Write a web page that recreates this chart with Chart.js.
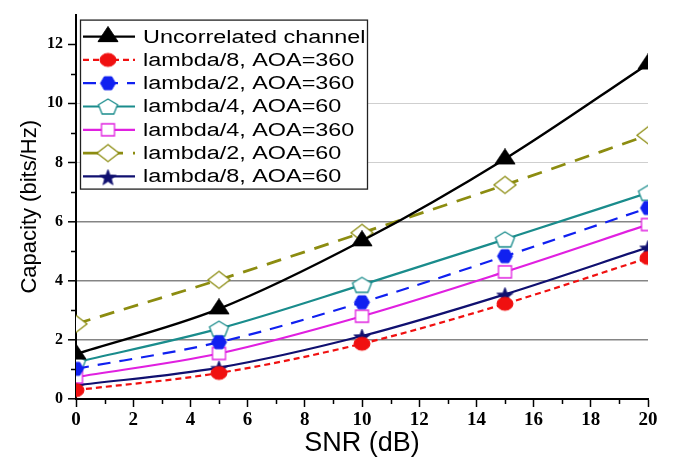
<!DOCTYPE html>
<html><head><meta charset="utf-8">
<script src="https://cdn.jsdelivr.net/npm/chart.js@4.4.1/dist/chart.umd.min.js"></script>
<style>html,body{margin:0;padding:0;background:#fff;}canvas{display:block;}</style>
</head><body>
<canvas id="c" width="674" height="460"></canvas>
<script>
// ---- data ----
const snr = [0, 5, 10, 15, 20];
const uncorrelated = [1.52, 3.05, 5.35, 8.12, 11.33];
const lambda8_aoa360 = [0.30, 0.88, 1.87, 3.22, 4.77];
const lambda2_aoa360 = [1.02, 1.92, 3.27, 4.83, 6.46];
const lambda4_aoa60 = [1.24, 2.38, 3.86, 5.40, 6.97];
const lambda4_aoa360 = [0.74, 1.54, 2.80, 4.30, 5.90];
const lambda2_aoa60 = [2.54, 4.03, 5.62, 7.24, 8.92];
const lambda8_aoa60 = [0.46, 1.06, 2.13, 3.54, 5.13];
const seriesLabels = ['Uncorrelated channel', 'lambda/8, AOA=360', 'lambda/2, AOA=360', 'lambda/4, AOA=60', 'lambda/4, AOA=360', 'lambda/2, AOA=60', 'lambda/8, AOA=60'];
const xMajorTicks = [0, 2, 4, 6, 8, 10, 12, 14, 16, 18, 20];
const xMinorTicks = [1, 3, 5, 7, 9, 11, 13, 15, 17, 19];
const yMajorTicks = [0, 2, 4, 6, 8, 10, 12];
const yMinorTicks = [1, 3, 5, 7, 9, 11];

// ---- marker shapes ----
function shape(kind, w, h, fill, stroke, lw) {
  const pad = Math.ceil(lw) + 2;
  const c = document.createElement('canvas');
  c.width = Math.ceil(w + pad * 2); c.height = Math.ceil(h + pad * 2);
  const g = c.getContext('2d');
  const cx = c.width / 2, cy = c.height / 2, rx = w / 2, ry = h / 2;
  g.beginPath();
  if (kind === 'ellipse') {
    g.ellipse(cx, cy, rx, ry, 0, 0, Math.PI * 2);
  } else if (kind === 'triangle') {
    g.moveTo(cx, cy - 2 * h / 3); g.lineTo(cx + rx, cy + h / 3); g.lineTo(cx - rx, cy + h / 3); g.closePath();
  } else if (kind === 'diamond') {
    g.moveTo(cx, cy - ry); g.lineTo(cx + rx, cy); g.lineTo(cx, cy + ry); g.lineTo(cx - rx, cy); g.closePath();
  } else if (kind === 'rect') {
    g.rect(cx - rx, cy - ry, w, h);
  } else if (kind === 'pentagon') {
    const k = 2 / (1 + Math.cos(Math.PI / 5));
    const off = ry * k * (1 - Math.cos(Math.PI / 5)) / 2;
    for (let i = 0; i < 5; i++) {
      const a = -Math.PI / 2 + i * 2 * Math.PI / 5;
      const px = cx + Math.cos(a) * rx / Math.cos(Math.PI / 10);
      const py = cy + off + Math.sin(a) * ry * k;
      i ? g.lineTo(px, py) : g.moveTo(px, py);
    }
    g.closePath();
  } else if (kind === 'hexagon') {
    for (let i = 0; i < 6; i++) {
      const a = i * Math.PI / 3;
      const px = cx + Math.cos(a) * rx, py = cy + Math.sin(a) * ry / Math.sin(Math.PI / 3);
      i ? g.lineTo(px, py) : g.moveTo(px, py);
    }
    g.closePath();
  } else if (kind === 'star') {
    for (let i = 0; i < 10; i++) {
      const a = -Math.PI / 2 + i * Math.PI / 5;
      const r = i % 2 ? 0.42 : 1;
      const px = cx + Math.cos(a) * rx * r, py = cy + 1.5 + Math.sin(a) * ry * r * 1.05;
      i ? g.lineTo(px, py) : g.moveTo(px, py);
    }
    g.closePath();
  }
  if (fill) { g.fillStyle = fill; g.fill(); }
  if (stroke && lw) { g.lineWidth = lw; g.strokeStyle = stroke; g.stroke(); }
  return c;
}

const styles = [
  { color: '#000000', width: 2.4, dash: [], marker: shape('triangle', 20, 15, '#000', '#000', 1) },
  { color: '#f01010', width: 2.2, dash: [6, 4], marker: shape('ellipse', 16, 13, '#f01010', '#f01010', 1) },
  { color: '#1020f0', width: 2.2, dash: [13, 9], marker: shape('hexagon', 15, 13, '#1020f0', '#1020f0', 1) },
  { color: '#1a8c8c', width: 2.2, dash: [], marker: shape('pentagon', 19, 15, '#ffffff', '#1a8c8c', 1.3) },
  { color: '#e020e0', width: 2.2, dash: [], marker: shape('rect', 13, 12, '#ffffff', '#e020e0', 1.3) },
  { color: '#8c8c10', width: 2.8, dash: [15, 10], marker: shape('diamond', 22, 17, '#ffffff', '#8c8c10', 1.3) },
  { color: '#101070', width: 2.2, dash: [], marker: shape('star', 17, 16, '#101070', '#101070', 0.8) }
];
const seriesValues = [uncorrelated, lambda8_aoa360, lambda2_aoa360, lambda4_aoa60, lambda4_aoa360, lambda2_aoa60, lambda8_aoa60];

const datasets = seriesValues.map((vals, i) => ({
  label: seriesLabels[i],
  data: vals.map((v, j) => ({ x: snr[j], y: v })),
  borderColor: styles[i].color,
  backgroundColor: styles[i].color,
  borderWidth: styles[i].width,
  borderDash: styles[i].dash,
  pointStyle: styles[i].marker,
  pointRadius: 6,
  cubicInterpolationMode: 'monotone',
  fill: false
}));

const bgPlugin = {
  id: 'bg',
  beforeDraw(chart) {
    const ctx = chart.ctx; ctx.save(); ctx.fillStyle = '#fff';
    ctx.fillRect(0, 0, chart.width, chart.height); ctx.restore();
  }
};

const minorTickPlugin = {
  id: 'minorTicks',
  afterDraw(chart) {
    const ctx = chart.ctx, a = chart.chartArea, xs = chart.scales.x, ys = chart.scales.y;
    ctx.save(); ctx.strokeStyle = '#000'; ctx.lineWidth = 1.5;
    ctx.beginPath();
    yMinorTicks.forEach(v => { const p = Math.round(ys.getPixelForValue(v)) + 0.5; ctx.moveTo(a.left - 5, p); ctx.lineTo(a.left, p); });
    xMinorTicks.forEach(v => { const p = Math.round(xs.getPixelForValue(v)) + 0.5; ctx.moveTo(p, a.bottom); ctx.lineTo(p, a.bottom + 5); });
    ctx.stroke(); ctx.restore();
  }
};

const legendPlugin = {
  id: 'boxLegend',
  afterDatasetsDraw(chart) {
    const ctx = chart.ctx, a = chart.chartArea;
    const x0 = a.left + 4, y0 = a.top + 5, w = 287, h = 169, rowH = 23.3;
    ctx.save();
    ctx.fillStyle = '#fff'; ctx.fillRect(x0, y0, w, h);
    ctx.strokeStyle = '#222'; ctx.lineWidth = 1.3; ctx.strokeRect(x0 + 0.5, y0 + 0.5, w, h);
    chart.data.datasets.forEach((ds, i) => {
      const cy = y0 + 17 + i * rowH;
      ctx.strokeStyle = ds.borderColor; ctx.lineWidth = ds.borderWidth;
      ctx.setLineDash(ds.borderDash || []);
      ctx.beginPath(); ctx.moveTo(x0 + 3, cy); ctx.lineTo(x0 + 55, cy); ctx.stroke();
      ctx.setLineDash([]);
      const m = ds.pointStyle;
      ctx.drawImage(m, x0 + 28 - m.width / 2, cy - m.height / 2);
      ctx.save();
      ctx.translate(x0 + 63, cy + 1);
      ctx.scale(1.3, 1);
      ctx.fillStyle = '#000';
      ctx.font = '18px "Liberation Sans", Arial, sans-serif';
      ctx.textBaseline = 'middle';
      ctx.fillText(ds.label, 0, 0);
      ctx.restore();
    });
    ctx.restore();
  }
};

const tickFont = (size) => ({ family: '"Liberation Serif", "Times New Roman", serif', weight: 'bold', size });

new Chart(document.getElementById('c'), {
  type: 'line',
  data: { datasets },
  options: {
    responsive: false,
    animation: false,
    layout: { padding: { top: 8, right: 26, left: 0, bottom: 0 } },
    plugins: { legend: { display: false }, tooltip: { enabled: false } },
    scales: {
      x: {
        type: 'linear', min: 0, max: 20,
        afterBuildTicks: s => { s.ticks = xMajorTicks.map(v => ({ value: v })); },
        afterFit: s => { s.height = 61; },
        border: { color: '#000', width: 2 },
        grid: { drawOnChartArea: false, drawTicks: true, tickColor: '#000', tickLength: 8, tickWidth: 1.5 },
        ticks: { color: '#000', font: tickFont(19), padding: 2, maxRotation: 0, autoSkip: false },
        title: { display: true, text: 'SNR (dB)', color: '#000', font: { family: '"Liberation Sans", Arial, sans-serif', size: 27 }, padding: { top: 0, bottom: 0 } }
      },
      y: {
        type: 'linear', min: 0, max: 13,
        afterBuildTicks: s => { s.ticks = yMajorTicks.map(v => ({ value: v })); },
        afterFit: s => { s.width = 76; },
        border: { color: '#000', width: 2 },
        grid: {
          drawOnChartArea: true,
          color: c => { const v = c.tick ? c.tick.value : 0; if (v === 0 || v >= 12) return 'rgba(0,0,0,0)'; return v <= 6 ? '#858585' : '#cfcfcf'; },
          lineWidth: c => { const v = c.tick ? c.tick.value : 0; return v <= 6 ? 1.6 : 1; },
          tickColor: '#000', tickLength: 8, tickWidth: 1.5
        },
        ticks: { color: '#000', font: tickFont(16), padding: 5, autoSkip: false },
        title: { display: true, text: 'Capacity (bits/Hz)', color: '#000', font: { family: '"Liberation Sans", Arial, sans-serif', size: 22 }, padding: { top: 17, bottom: 0 } }
      }
    }
  },
  plugins: [bgPlugin, minorTickPlugin, legendPlugin]
});
</script>
</body></html>
